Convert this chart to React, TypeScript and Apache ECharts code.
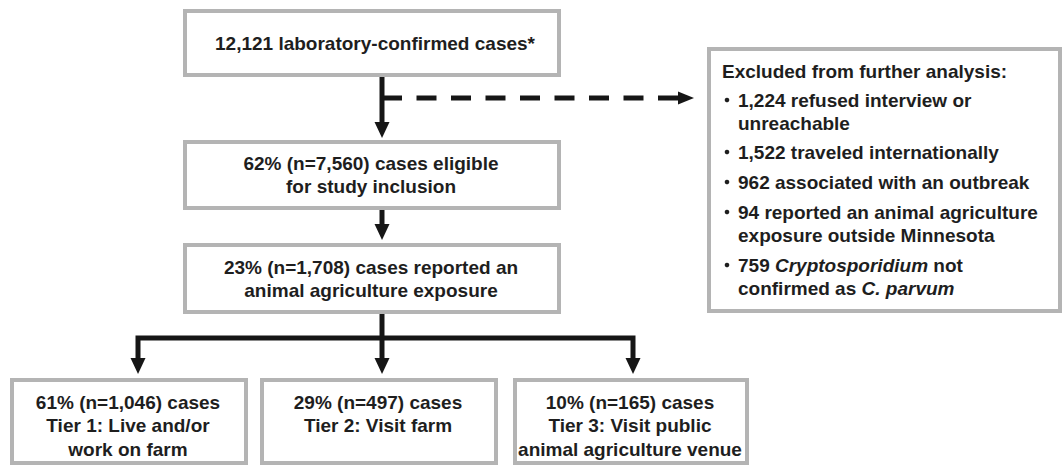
import React, { useEffect, useRef } from "react";
import * as echarts from "echarts";

// ---- Flowchart content ----
const topBoxLines: string[] = ["12,121 laboratory-confirmed cases*"];
const eligibleLines: string[] = ["62% (n=7,560) cases eligible", "for study inclusion"];
const exposureLines: string[] = ["23% (n=1,708) cases reported an", "animal agriculture exposure"];
const tierLines: string[][] = [
  ["61% (n=1,046) cases", "Tier 1: Live and/or", "work on farm"],
  ["29% (n=497) cases", "Tier 2: Visit farm"],
  ["10% (n=165) cases", "Tier 3: Visit public", "animal agriculture venue"],
];
const excludedTitle = "Excluded from further analysis:";
const excludedItems: string[][] = [
  ["1,224 refused interview or", "unreachable"],
  ["1,522 traveled internationally"],
  ["962 associated with an outbreak"],
  ["94 reported an animal agriculture", "exposure outside Minnesota"],
  ["759 {i|Cryptosporidium} not", "confirmed as {i|C. parvum}"],
];

const FONT_FAMILY = "'Liberation Sans', Arial, Helvetica, sans-serif";
const TEXT_COLOR = "#1e1e1e";
const BORDER = "#b4b4b4";
const LINE = "#161616";
const FS = 19;
const LH = 23.5;

type Box = [number, number, number, number];

function boxRect(b: Box): any {
  const bw = 4;
  return {
    type: "rect",
    shape: { x: b[0] + bw / 2, y: b[1] + bw / 2, width: b[2] - b[0] - bw, height: b[3] - b[1] - bw },
    style: { fill: "#ffffff", stroke: BORDER, lineWidth: bw },
    z: 1,
  };
}

function textEl(text: string, x: number, y: number, align: string = "center"): any {
  return {
    type: "text",
    x,
    y,
    z: 5,
    style: {
      text,
      fill: TEXT_COLOR,
      fontFamily: FONT_FAMILY,
      fontSize: FS,
      fontWeight: "bold",
      textAlign: align,
      textVerticalAlign: "middle",
      rich: {
        i: {
          fontFamily: FONT_FAMILY,
          fontSize: FS,
          fontWeight: "bold",
          fontStyle: "italic",
          fill: TEXT_COLOR,
        },
      },
    },
  };
}

function centeredLines(lines: string[], cx: number, firstY: number): any[] {
  return lines.map((l, i) => textEl(l, cx, firstY + i * LH));
}

function vLine(x: number, y1: number, y2: number): any {
  return {
    type: "line",
    z: 3,
    shape: { x1: x, y1, x2: x, y2 },
    style: { stroke: LINE, lineWidth: 5 },
  };
}

function downHead(x: number, tipY: number): any {
  return {
    type: "polygon",
    z: 4,
    shape: { points: [[x - 7.5, tipY - 16], [x + 7.5, tipY - 16], [x, tipY]] },
    style: { fill: LINE },
  };
}

export default function App() {
  const ref = useRef<HTMLDivElement>(null);

  useEffect(() => {
    if (!ref.current) return;
    const chart = echarts.init(ref.current, undefined, { renderer: "svg" });

    const topBox: Box = [183, 9, 561, 77];
    const eligBox: Box = [183, 140, 561, 210];
    const expoBox: Box = [183, 243, 561, 314];
    const tierBoxes: Box[] = [
      [10, 378, 248, 465],
      [260, 378, 498, 465],
      [513, 378, 749, 465],
    ];
    const exclBox: Box = [707, 47, 1062, 313];
    const stemX = 382;
    const tierArrowX = [138, 382, 633];
    const branchY = 338;
    const tierTipY = 374;

    const elements: any[] = [];
    [topBox, eligBox, expoBox, ...tierBoxes, exclBox].forEach((b) => elements.push(boxRect(b)));

    // main arrows
    elements.push(vLine(stemX, 77, 124));
    elements.push(downHead(stemX, 138));
    elements.push(vLine(stemX, 210, 226));
    elements.push(downHead(stemX, 240));

    // dashed arrow to exclusions
    elements.push({
      type: "line",
      z: 3,
      shape: { x1: stemX, y1: 98, x2: 679, y2: 98 },
      style: { stroke: LINE, lineWidth: 5, lineDash: [20, 14.5] },
    });
    elements.push({
      type: "polygon",
      z: 4,
      shape: { points: [[678, 91.5], [678, 104.5], [694, 98]] },
      style: { fill: LINE },
    });

    // branch to tiers
    elements.push(vLine(stemX, 314, tierTipY - 14));
    elements.push({
      type: "polyline",
      z: 3,
      shape: {
        points: [
          [tierArrowX[0], tierTipY - 14],
          [tierArrowX[0], branchY],
          [tierArrowX[2], branchY],
          [tierArrowX[2], tierTipY - 14],
        ],
      },
      style: { stroke: LINE, lineWidth: 5, fill: null, lineJoin: "miter" },
    });
    tierArrowX.forEach((x) => elements.push(downHead(x, tierTipY)));

    // texts
    elements.push(...centeredLines(topBoxLines, 375, 43));
    elements.push(...centeredLines(eligibleLines, 371, 163));
    elements.push(...centeredLines(exposureLines, 371, 267));
    tierLines.forEach((lines, i) => {
      const b = tierBoxes[i];
      elements.push(...centeredLines(lines, (b[0] + b[2]) / 2 - 1, 402));
    });

    elements.push(textEl(excludedTitle, 722, 71, "left"));
    const itemStarts = [100, 152, 182, 212, 265];
    excludedItems.forEach((lines, i) => {
      const y0 = itemStarts[i];
      elements.push({
        type: "circle",
        z: 5,
        shape: { cx: 727, cy: y0, r: 2.3 },
        style: { fill: TEXT_COLOR },
      });
      lines.forEach((l, j) => elements.push(textEl(l, 738, y0 + j * LH, "left")));
    });

    chart.setOption({
      animation: false,
      backgroundColor: "#ffffff",
      graphic: { elements },
    });

    return () => chart.dispose();
  }, []);

  return (
    <div
      ref={ref}
      style={{ position: "absolute", left: 0, top: 0, width: 1062, height: 466 }}
    />
  );
}
